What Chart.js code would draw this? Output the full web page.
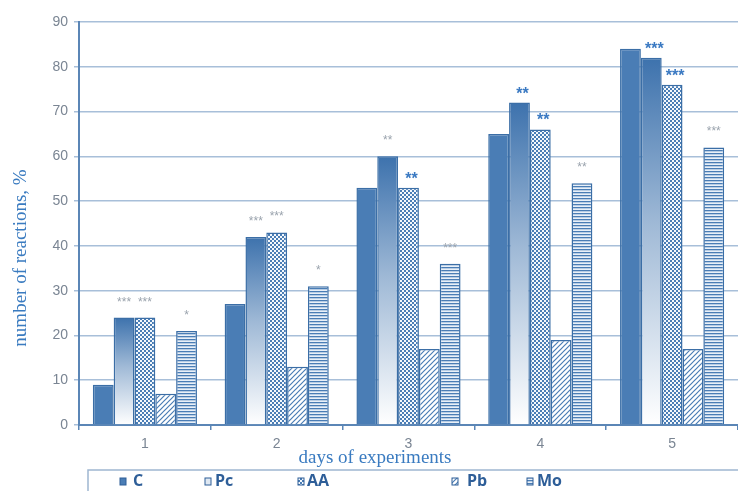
<!DOCTYPE html>
<html>
<head>
<meta charset="utf-8">
<script src="https://cdn.jsdelivr.net/npm/chart.js@4.4.0/dist/chart.umd.min.js"></script>
<style>
  html, body { margin: 0; padding: 0; background: #ffffff; }
  #wrap { width: 738px; height: 491px; position: relative; }
</style>
</head>
<body>
<div id="wrap"><canvas id="chart" width="738" height="491"></canvas></div>
<script>
// Data
const days = ['1', '2', '3', '4', '5'];
const valuesC  = [9, 27, 53, 65, 84];
const valuesPc = [24, 42, 60, 72, 82];
const valuesAA = [24, 43, 53, 66, 76];
const valuesPb = [7, 13, 17, 19, 17];
const valuesMo = [21, 31, 36, 54, 62];

// significance marks above bars
const starsPc = ['***', '***', '**', '**', '***'];
const starsAA = ['***', '***', '**', '**', '***'];
const starsMo = ['*', '*', '***', '**', '***'];
const yTicks = [0, 10, 20, 30, 40, 50, 60, 70, 80, 90];

const blue = '#4a7db5';
const edge = '#3b6ea6';
const gridBlue = '#a8bfd9';
const axisBlue = '#5b86b6';

// Fill patterns
function makePattern(w, h, draw) {
    const c = document.createElement('canvas');
    c.width = w; c.height = h;
    draw(c.getContext('2d'));
    return document.createElement('canvas').getContext('2d').createPattern(c, 'repeat');
}

const patternAA = makePattern(4, 4, function(g) {
    g.fillStyle = blue;
    g.fillRect(0, 0, 4, 4);
    g.fillStyle = '#f4f8fc';
    g.fillRect(0, 0, 2, 2);
    g.fillRect(2, 2, 2, 2);
});

const patternPb = makePattern(5, 5, function(g) {
    g.fillStyle = '#ffffff';
    g.fillRect(0, 0, 5, 5);
    g.strokeStyle = blue;
    g.lineWidth = 1.2;
    g.beginPath();
    g.moveTo(-1, 6); g.lineTo(6, -1);
    g.moveTo(-1, 1); g.lineTo(1, -1);
    g.moveTo(4, 6); g.lineTo(6, 4);
    g.stroke();
});

const patternMo = makePattern(4, 3, function(g) {
    g.fillStyle = '#e9f0f8';
    g.fillRect(0, 0, 4, 3);
    g.fillStyle = blue;
    g.fillRect(0, 0, 4, 1.3);
});

// Pc bars: vertical gradient, blue at top to white at the base
function gradientPc(context) {
    const chart = context.chart;
    const y = chart.scales.y;
    if (!y || context.raw == null) return blue;
    const top = y.getPixelForValue(context.raw);
    const bottom = y.getPixelForValue(0);
    if (!isFinite(top) || !isFinite(bottom)) return blue;
    const g = chart.ctx.createLinearGradient(0, top, 0, bottom);
    g.addColorStop(0, '#3d72ad');
    g.addColorStop(0.45, '#9fb9d6');
    g.addColorStop(1, '#ffffff');
    return g;
}

// Stars, axis titles and the legend box
const extrasPlugin = {
    id: 'extras',
    afterDatasetsDraw(chart) {
        const ctx = chart.ctx;
        ctx.save();
        ctx.textAlign = 'center';
        ctx.textBaseline = 'alphabetic';

        function drawStars(dsIndex, marks, emphasis) {
            const meta = chart.getDatasetMeta(dsIndex);
            meta.data.forEach(function(bar, i) {
                if (emphasis[i]) {
                    ctx.font = 'bold 16px "Liberation Sans", Arial, sans-serif';
                    ctx.fillStyle = '#3a79c2';
                    ctx.fillText(marks[i], bar.x + 3, bar.y - 4);
                } else {
                    ctx.font = '12px "Liberation Sans", Arial, sans-serif';
                    ctx.fillStyle = '#9aa3ad';
                    ctx.fillText(marks[i], bar.x, bar.y - 12);
                }
            });
        }
        drawStars(1, starsPc, [false, false, false, true, true]);
        drawStars(2, starsAA, [false, false, true, true, true]);
        drawStars(4, starsMo, [false, false, false, false, false]);

        // axis titles
        ctx.fillStyle = '#3a7bc0';
        ctx.font = '19px "Liberation Serif", "Times New Roman", serif';
        ctx.textBaseline = 'middle';
        ctx.fillText('days of experiments', 375, 458);
        ctx.save();
        ctx.translate(21, 258);
        ctx.rotate(-Math.PI / 2);
        ctx.fillText('number of reactions, %', 0, 0);
        ctx.restore();

        // legend box
        ctx.fillStyle = '#ffffff';
        ctx.fillRect(88, 470, 660, 30);
        ctx.strokeStyle = '#9fb6d1';
        ctx.lineWidth = 1.5;
        ctx.strokeRect(88, 470, 660, 30);

        const items = [
            { label: 'C',  fill: blue,       mx: 120, tx: 133 },
            { label: 'Pc', fill: '#dfe8f2',  mx: 205, tx: 215 },
            { label: 'AA', fill: patternAA,  mx: 298, tx: 307 },
            { label: 'Pb', fill: patternPb,  mx: 452, tx: 467 },
            { label: 'Mo', fill: patternMo,  mx: 527, tx: 537 }
        ];
        ctx.textAlign = 'left';
        ctx.font = 'bold 16px "Open Sans", "Liberation Sans", sans-serif';
        items.forEach(function(it) {
            ctx.fillStyle = it.fill;
            ctx.fillRect(it.mx, 478, 6, 7);
            ctx.strokeStyle = '#2f5f98';
            ctx.lineWidth = 1;
            ctx.strokeRect(it.mx, 478, 6, 7);
            ctx.fillStyle = '#2e5e98';
            ctx.fillText(it.label, it.tx, 481);
        });
        ctx.restore();
    }
};

const commonBar = {
    borderColor: edge,
    borderWidth: 1.5,
    borderSkipped: 'bottom',
    categoryPercentage: 0.79,
    barPercentage: 1.0
};

new Chart(document.getElementById('chart').getContext('2d'), {
    type: 'bar',
    data: {
        labels: days,
        datasets: [
            Object.assign({ label: 'C',  data: valuesC,  backgroundColor: blue }, commonBar),
            Object.assign({ label: 'Pc', data: valuesPc, backgroundColor: gradientPc }, commonBar),
            Object.assign({ label: 'AA', data: valuesAA, backgroundColor: patternAA }, commonBar),
            Object.assign({ label: 'Pb', data: valuesPb, backgroundColor: patternPb }, commonBar),
            Object.assign({ label: 'Mo', data: valuesMo, backgroundColor: patternMo }, commonBar)
        ]
    },
    options: {
        responsive: false,
        animation: false,
        layout: { padding: { top: 22, right: 0, left: 0, bottom: 0 } },
        plugins: {
            legend: { display: false },
            tooltip: { enabled: false }
        },
        scales: {
            x: {
                afterFit: function(scale) { scale.height = 66; },
                grid: {
                    offset: true,
                    drawOnChartArea: false,
                    tickLength: 5,
                    color: axisBlue,
                    lineWidth: 1.5
                },
                border: { color: axisBlue, width: 2 },
                ticks: {
                    color: '#7a8593',
                    padding: 6,
                    font: { family: '"Liberation Sans", Arial, sans-serif', size: 14 }
                }
            },
            y: {
                min: 0,
                max: 90,
                afterFit: function(scale) { scale.width = 79; },
                afterBuildTicks: function(scale) {
                    scale.ticks = yTicks.map(function(v) { return { value: v }; });
                },
                grid: {
                    color: gridBlue,
                    lineWidth: 1.5,
                    tickLength: 5
                },
                border: { color: axisBlue, width: 2 },
                ticks: {
                    color: '#7a8593',
                    padding: 6,
                    font: { family: '"Liberation Sans", Arial, sans-serif', size: 14 }
                }
            }
        }
    },
    plugins: [extrasPlugin]
});
</script>
</body>
</html>
